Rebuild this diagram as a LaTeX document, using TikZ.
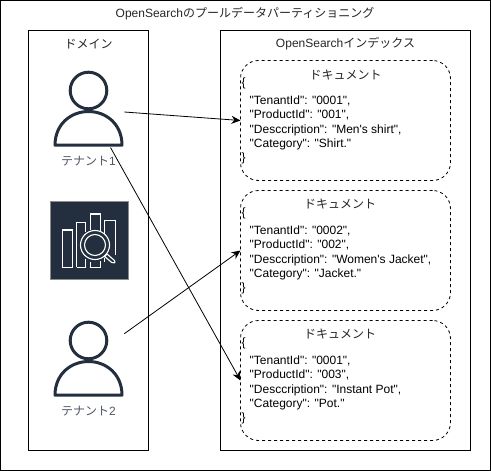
\documentclass[tikz,border=0pt]{standalone}
\usepackage{fontspec}
\setmainfont{Liberation Sans}
\newfontfamily\cjk{Noto Sans CJK JP}
\newfontfamily\plainlatin{Liberation Sans}
\usetikzlibrary{arrows.meta}
\definecolor{awsdark}{HTML}{232F3E}
\tikzset{
  x=1pt,y=-1pt,
  frame/.style={draw=black,line width=1pt,fill=white,rectangle,inner sep=0pt,outer sep=0pt},
  docbox/.style={draw=black,line width=0.8pt,dash pattern=on 3pt off 3pt,fill=white,rectangle,rounded corners=18pt,inner sep=0pt,outer sep=0pt,minimum width=210pt,minimum height=120pt},
  lbl/.style={font=\fontsize{12}{14}\selectfont,inner sep=0pt,text=black!85},
  tenantlbl/.style={font=\fontsize{12}{14}\selectfont,inner sep=0pt,text=awsdark!80},
  jsontext/.style={font=\plainlatin\fontsize{12}{14.4}\selectfont,inner sep=0pt,align=left,anchor=north west,text=black},
  link/.style={draw=black,line width=0.8pt,-{Stealth[length=9pt,width=8pt]}},
  personline/.style={draw=awsdark,line width=3pt,line join=round},
  iconline/.style={draw=white,line width=1.1pt,line join=miter}
}
\newcommand{\tenantfig}[1]{%
  \begin{scope}[yshift=#1]
    \path[personline,fill=white] (55,145.2) .. controls (55,124) and (71,111.5) .. (88.5,111.5) .. controls (106,111.5) and (122,124) .. (122,145.2) -- cycle;
    \path[personline,fill=white] (88.5,90.5) circle (18.3);
  \end{scope}}
\newcommand{\jsonbody}[4]{\{\\[3pt]
\hspace*{8pt}"TenantId": "#1",\\
\hspace*{8pt}"ProductId": "#2",\\
\hspace*{8pt}"Desccription": "#3",\\
\hspace*{8pt}"Category": "#4"\\
\}}
\begin{document}
\begin{tikzpicture}
\useasboundingbox (0,0) rectangle (491,471);
\node[frame,minimum width=489.5pt,minimum height=469.5pt] (outer) at (245.25,235.25) {};
\node[lbl] (title) at (245,14) {OpenSearch{\cjk のプールデータパーティショニング}};
\node[frame,minimum width=120pt,minimum height=420pt] (domain) at (88.5,240.5) {};
\node[lbl] (domainlbl) at (88.5,44) {\cjk ドメイン};
\node[frame,minimum width=250pt,minimum height=420pt] (index) at (345.5,240.5) {};
\node[lbl] (indexlbl) at (345.5,43.5) {OpenSearch{\cjk インデックス}};

\node[docbox] (doc1) at (345.5,120.5) {};
\node[docbox] (doc2) at (345.5,250.5) {};
\node[docbox] (doc3) at (345.5,380.5) {};
\node[lbl] (doc1t) at (345.5,75) {\cjk ドキュメント};
\node[lbl] (doc2t) at (340,204) {\cjk ドキュメント};
\node[lbl] (doc3t) at (340,334) {\cjk ドキュメント};
\node[jsontext] (j1) at (241.5,78) {\jsonbody{0001}{001}{Men's shirt}{Shirt.}};
\node[jsontext] (j2) at (241.5,208) {\jsonbody{0002}{002}{Women's Jacket}{Jacket.}};
\node[jsontext] (j3) at (241.5,338) {\jsonbody{0001}{003}{Instant Pot}{Pot.}};

\tenantfig{0pt}
\tenantfig{-250pt}
\node[tenantlbl] (t1) at (88.5,161) {\cjk テナント\rmfamily 1};
\node[tenantlbl] (t2) at (88.5,411.5) {\cjk テナント\rmfamily 2};

\node[fill=awsdark,draw=black!45,line width=0.5pt,minimum width=78pt,minimum height=78pt,inner sep=0pt] (icon) at (89.5,240) {};
\begin{scope}
  \draw[iconline] (62.7,230) rectangle (72.7,267.3);
  \draw[iconline] (76.7,267.3) -- (76.7,222.5) -- (85.7,222.5) -- (85.7,232);
  \draw[iconline] (90.7,230) -- (90.7,214) -- (100.7,214) -- (100.7,231);
  \draw[iconline] (104.5,236) -- (104.5,220.7) -- (115.3,220.7) -- (115.3,255);
  \draw[iconline] (76.7,267.3) -- (85.7,267.3) -- (85.7,259);
  \draw[iconline] (90.7,262) -- (90.7,267.3) -- (100.7,267.3) -- (100.7,261);
  \draw[iconline] (104.5,258) -- (104.5,262);
  \draw[iconline,fill=awsdark] (95,245) circle (14.5);
  \draw[iconline] (95,245) circle (10.5);
  \draw[iconline,line join=round,fill=awsdark] (104.5,256.5) -- (107,254) -- (114.5,260.5) .. controls (116,263) and (113.5,263.5) .. (111.8,262.5) -- cycle;
\end{scope}

\coordinate (t1r) at (124.3,112);
\coordinate (t1b) at (110.5,147.5);
\coordinate (t2r) at (124.3,333.7);
\draw[link] (t1r) -- (doc1.west);
\draw[link] (t1b) -- (doc3.west);
\draw[link] (t2r) -- (doc2.west);
\end{tikzpicture}
\end{document}
